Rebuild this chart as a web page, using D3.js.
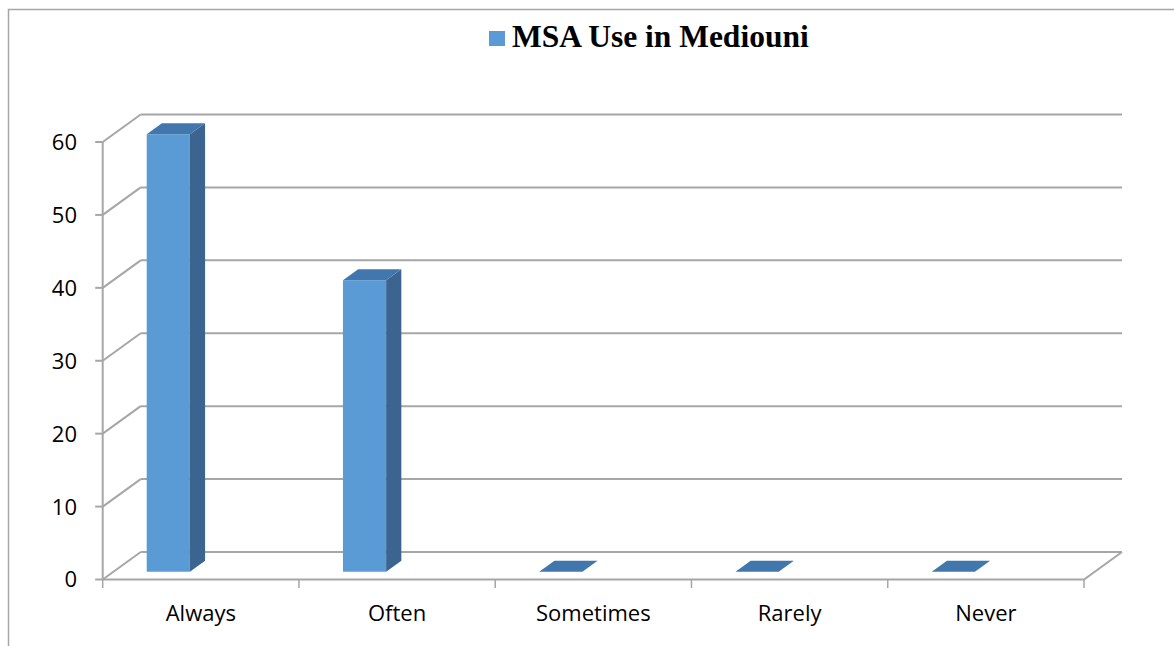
<!DOCTYPE html>
<html>
<head>
<meta charset="utf-8">
<script src="https://cdn.jsdelivr.net/npm/d3@7"></script>
<style>
  body { margin: 0; background: #fff; }
  svg { display: block; }
</style>
</head>
<body>
<svg id="chart"></svg>
<script>
// data
const categories = ["Always", "Often", "Sometimes", "Rarely", "Never"];
const values = [60, 40, 0, 0, 0];
const yTicks = [0, 10, 20, 30, 40, 50, 60];
const seriesName = "MSA Use in Mediouni";

const width = 1174, height = 646;
const svg = d3.select("#chart").attr("width", width).attr("height", height);

// 3d box depth (back wall offset)
const DX = 38, DY = -27.5;
const grid = "#a6a6a6";

const x = d3.scaleBand().domain(categories).range([102.7, 1084]);
const y = d3.scaleLinear().domain([0, 60]).range([579.5, 142]);

// project a point in front-plane coords to some depth z (0 front .. 1 back)
const proj = (px, v, z) => [px + z * DX, y(v) + z * DY];

// chart area border (cropped on right and bottom)
svg.append("path")
  .attr("d", `M8.5,${height} L8.5,9.5 L${width},9.5`)
  .attr("fill", "none").attr("stroke", "#a6a6a6").attr("stroke-width", 1.5);

const g = svg.append("g");
const x0 = x.range()[0], x1 = x.range()[1];

// back wall gridlines
g.selectAll(".back").data(yTicks).join("line")
  .attr("x1", x0 + DX).attr("x2", x1 + DX)
  .attr("y1", d => y(d) + DY).attr("y2", d => y(d) + DY)
  .attr("stroke", grid).attr("stroke-width", 2);

// side wall diagonals
g.selectAll(".side").data(yTicks).join("line")
  .attr("x1", x0).attr("y1", d => y(d))
  .attr("x2", x0 + DX).attr("y2", d => y(d) + DY)
  .attr("stroke", grid).attr("stroke-width", 2);

// floor front + right edge
g.append("path")
  .attr("d", `M${x0},${y(0)} L${x1},${y(0)} L${x1 + DX},${y(0) + DY}`)
  .attr("fill", "none").attr("stroke", grid).attr("stroke-width", 2);

// front value axis
g.append("line")
  .attr("x1", x0).attr("x2", x0).attr("y1", y(60)).attr("y2", y(0))
  .attr("stroke", grid).attr("stroke-width", 2);
g.selectAll(".ytick").data(yTicks).join("line")
  .attr("x1", x0 - 7.5).attr("x2", x0).attr("y1", d => y(d)).attr("y2", d => y(d))
  .attr("stroke", grid).attr("stroke-width", 2);
g.selectAll(".ylab").data(yTicks).join("text")
  .attr("x", 77).attr("y", d => y(d)).attr("dy", "0.36em")
  .attr("text-anchor", "end")
  .attr("font-family", "'Open Sans', sans-serif").attr("font-size", 22)
  .attr("fill", "#000")
  .text(d => d);

// category ticks + labels
const bounds = categories.map(c => x(c)).concat([x1]);
g.selectAll(".xtick").data(bounds).join("line")
  .attr("x1", d => d).attr("x2", d => d).attr("y1", y(0)).attr("y2", y(0) + 8.5)
  .attr("stroke", grid).attr("stroke-width", 1.5);
g.selectAll(".xlab").data(categories).join("text")
  .attr("x", d => x(d) + x.bandwidth() / 2).attr("y", 621)
  .attr("text-anchor", "middle")
  .attr("font-family", "'Open Sans', sans-serif").attr("font-size", 22)
  .attr("fill", "#000")
  .text(d => d);

// 3d bars
const z0 = 0.28, z1 = 0.68;
const bw = x.bandwidth();
const cFront = "#5b9bd5", cTop = "#4277ae", cSide = "#3b6590";
const bars = g.selectAll(".bar").data(categories.map((c, i) => ({ c, v: values[i] }))).join("g");
const poly = pts => "M" + pts.map(p => p.join(",")).join("L") + "Z";

bars.each(function (d) {
  const sel = d3.select(this);
  const l = x(d.c) + bw * 0.17, r = l + bw * 0.22;
  if (d.v > 0) {
    sel.append("path").attr("fill", cFront)
      .attr("d", poly([proj(l, 0, z0), proj(r, 0, z0), proj(r, d.v, z0), proj(l, d.v, z0)]));
    sel.append("path").attr("fill", cSide)
      .attr("d", poly([proj(r, 0, z0), proj(r, 0, z1), proj(r, d.v, z1), proj(r, d.v, z0)]));
  }
  sel.append("path").attr("fill", cTop)
    .attr("d", poly([proj(l, d.v, z0), proj(r, d.v, z0), proj(r, d.v, z1), proj(l, d.v, z1)]));
});

// title with legend key
svg.append("rect")
  .attr("x", 489).attr("y", 31).attr("width", 16).attr("height", 15)
  .attr("fill", cFront);
svg.append("text")
  .attr("x", 512).attr("y", 47)
  .attr("font-family", "'Liberation Serif', 'Times New Roman', serif")
  .attr("font-weight", "bold").attr("font-size", 31.5)
  .attr("fill", "#000")
  .text(seriesName);
</script>
</body>
</html>
